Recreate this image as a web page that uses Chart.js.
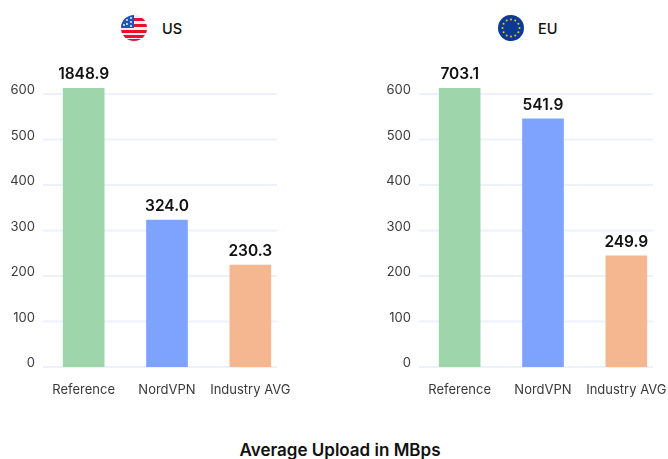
<!DOCTYPE html>
<html>
<head>
<meta charset="utf-8">
<script src="https://cdn.jsdelivr.net/npm/chart.js@4"></script>
<style>
  html, body { margin: 0; padding: 0; background: #fff; overflow: hidden; }
  body { width: 668px; height: 459px; position: relative; font-family: Inter, sans-serif; color: #111; }
  .box { position: absolute; top: 60px; width: 292px; height: 350px; }
  .region { position: absolute; top: 20px; font-size: 14.5px; font-weight: 500; line-height: 18px; }
  .flag { position: absolute; top: 15px; width: 26px; height: 26px; }
  #title { position: absolute; left: 0; width: 680px; top: 441px; text-align: center; font-size: 17px; font-weight: 600; line-height: 18px; }
</style>
</head>
<body>
<svg class="flag" style="left:121px" viewBox="0 0 26 26">
  <defs><clipPath id="c"><circle cx="13" cy="13" r="13"/></clipPath></defs>
  <g clip-path="url(#c)">
    <rect width="26" height="26" fill="#f0f0f0"/>
    <rect y="3" width="26" height="3" fill="#e8112d"/>
    <rect y="9" width="26" height="3" fill="#e8112d"/>
    <rect y="15" width="26" height="3" fill="#e8112d"/>
    <rect y="20" width="26" height="3" fill="#e8112d"/>
    <rect y="24" width="26" height="2" fill="#e8112d"/>
    <rect width="13" height="13" fill="#1f55b8"/>
    <g fill="#fff">
      <circle cx="6" cy="5" r=".9"/><circle cx="10" cy="3" r=".9"/><circle cx="10" cy="7" r=".9"/>
      <circle cx="6" cy="9" r=".9"/><circle cx="10" cy="11" r=".9"/><circle cx="3" cy="10" r=".9"/>
    </g>
  </g>
</svg>
<div class="region" style="left:162px">US</div>
<svg class="flag" style="left:498px" viewBox="0 0 26 26">
  <circle cx="13" cy="13" r="13" fill="#0b3a94"/>
  <g fill="#f5c518">
    <circle cx="13" cy="4.5" r="1"/><circle cx="17.3" cy="5.6" r="1"/><circle cx="20.4" cy="8.7" r="1"/>
    <circle cx="21.5" cy="13" r="1"/><circle cx="20.4" cy="17.3" r="1"/><circle cx="17.3" cy="20.4" r="1"/>
    <circle cx="13" cy="21.5" r="1"/><circle cx="8.7" cy="20.4" r="1"/><circle cx="5.6" cy="17.3" r="1"/>
    <circle cx="4.5" cy="13" r="1"/><circle cx="5.6" cy="8.7" r="1"/><circle cx="8.7" cy="5.6" r="1"/>
  </g>
</svg>
<div class="region" style="left:538px">EU</div>
<div class="box" style="left:0"><canvas id="us" width="292" height="350"></canvas></div>
<div class="box" style="left:376px"><canvas id="eu" width="292" height="350"></canvas></div>
<div id="title">Average Upload in MBps</div>
<script>
const categories = ["Reference", "NordVPN", "Industry AVG"];
// bar heights as drawn in the picture, the printed numbers don't follow the axis
const usHeights = [613, 323, 224];
const euHeights = [613, 545, 244];
const usPrinted = ["1848.9", "324.0", "230.3"];
const euPrinted = ["703.1", "541.9", "249.9"];
const yTicks = [0, 100, 200, 300, 400, 500, 600];
const barColors = ["#9fd5aa", "#7ea3ff", "#f4b790"];
const axisTop = 613;

// grid stops short of the plot's right edge, so it is drawn here
const shortGrid = {
    id: 'shortGrid',
    beforeDatasetsDraw(chart) {
        const y = chart.scales.y;
        const ctx = chart.ctx;
        ctx.save();
        ctx.strokeStyle = '#ecf1fe';
        ctx.lineWidth = 2;
        y.ticks.forEach(t => {
            const py = y.getPixelForValue(t.value);
            ctx.beginPath();
            ctx.moveTo(y.right + 1, py);
            ctx.lineTo(y.right + 235, py);
            ctx.stroke();
        });
        ctx.restore();
    }
};

const printedLabels = {
    id: 'printedLabels',
    afterDatasetsDraw(chart, args, opts) {
        const ctx = chart.ctx;
        ctx.save();
        ctx.font = '600 15.5px Inter';
        ctx.fillStyle = '#111';
        ctx.textAlign = 'center';
        ctx.textBaseline = 'alphabetic';
        chart.getDatasetMeta(0).data.forEach((bar, i) => {
            ctx.fillText(opts.texts[i], bar.x, bar.y - 9);
        });
        ctx.restore();
    }
};

function createChart(id, heights, printed) {
    new Chart(document.getElementById(id), {
        type: 'bar',
        data: {
            labels: categories,
            datasets: [{
                data: heights,
                backgroundColor: barColors,
                barThickness: 41
            }]
        },
        options: {
            responsive: false,
            animation: false,
            layout: { padding: { top: 28, right: 0, left: 0, bottom: 0 } },
            plugins: {
                legend: { display: false },
                tooltip: { enabled: false },
                printedLabels: { texts: printed }
            },
            scales: {
                x: {
                    grid: { display: false },
                    border: { display: false },
                    ticks: {
                        color: '#3a3a3a',
                        font: { family: 'Inter', size: 13 },
                        maxRotation: 0,
                        autoSkip: false,
                        padding: 7
                    },
                    afterFit(scale) {
                        scale.height = 43;
                        scale.paddingLeft = 0;
                        scale.paddingRight = 0;
                    }
                },
                y: {
                    min: 0,
                    max: axisTop,
                    grid: { display: false, tickLength: 7 },
                    border: { display: false },
                    ticks: {
                        color: '#3a3a3a',
                        font: { family: 'Inter', size: 13 },
                        padding: 0,
                        labelOffset: -3.5
                    },
                    afterBuildTicks(scale) {
                        scale.ticks = yTicks.map(v => ({ value: v }));
                    },
                    afterFit(scale) {
                        scale.width = 42;
                        scale.paddingTop = 0;
                        scale.paddingBottom = 0;
                    }
                }
            }
        },
        plugins: [shortGrid, printedLabels]
    });
}

createChart('us', usHeights, usPrinted);
createChart('eu', euHeights, euPrinted);
</script>
</body>
</html>
